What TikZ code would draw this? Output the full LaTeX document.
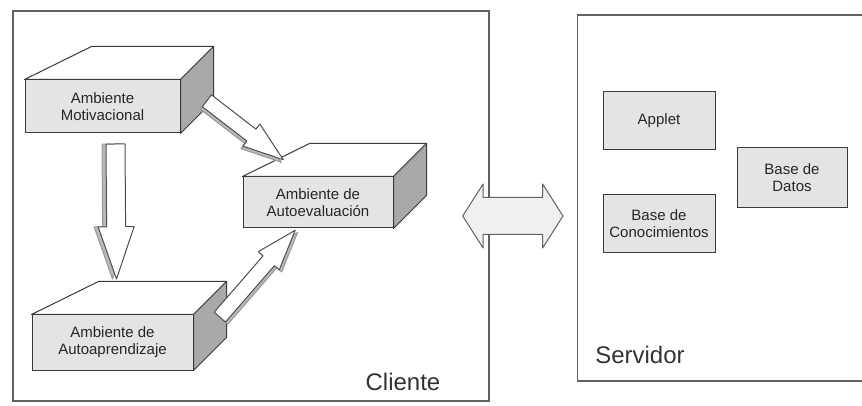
\documentclass[tikz,border=0pt]{standalone}
\usepackage{fontspec}
\setmainfont{Liberation Sans}
\usepackage{tikz}
\usetikzlibrary{calc,shapes.arrows}
\definecolor{facefr}{HTML}{E4E4E4}
\definecolor{faceside}{HTML}{A9A9A9}
\definecolor{edge}{HTML}{3A3A3A}

\begin{document}
\begin{tikzpicture}[
  x=0.5pt, y=-0.5pt,
  frame/.style={draw=edge!80, line width=0.7pt, inner sep=0pt},
  front/.style={draw=edge, line width=0.5pt, fill=facefr, align=center, inner sep=0pt,
    font=\fontsize{7.5}{8.6}\selectfont, text=black!85},
  topf/.style={draw=edge, line width=0.5pt, fill=white, line join=round},
  sidef/.style={draw=edge, line width=0.5pt, fill=faceside, line join=round},
  srvbox/.style={front, minimum width=56pt, minimum height=29pt},
  harrow/.style={single arrow, anchor=tail, draw=edge!90, line width=0.5pt, fill=white, line join=round,
    inner xsep=0pt, inner ysep=3.5pt, single arrow tip angle=38, single arrow head extend=3.2pt},
  hshade/.style={harrow, draw=gray!80, fill=gray!55},
  lbl/.style={font=\fontsize{12}{14}\selectfont, text=black!80}]
\useasboundingbox (0,0) rectangle (862,406);
% containers
\node[frame, minimum width=238pt, minimum height=195pt] (cli) at (251,206) {};
\node[frame, minimum width=190pt, minimum height=183pt, anchor=west] (srv) at (577,198) {};
\node[lbl] (clil) at (403,382) {Cliente};
\node[lbl] (srvl) at (640,355) {Servidor};
% client side: three boxes
\node[front, minimum width=77.5pt, minimum height=26.5pt] (mot) at (102.5,106.5) {Ambiente\\ Motivacional};
\node[front, minimum width=75pt, minimum height=25.5pt] (aev) at (318,202.5) {Ambiente de\\ Autoevaluación};
\node[front, minimum width=80.5pt, minimum height=27.5pt] (apr) at (112.5,342.5) {Ambiente de\\ Autoaprendizaje};
\foreach \b in {mot,aev,apr} {
  \draw[topf] (\b.north west) -- ++(67,-33) -- ($(\b.north east)+(33,-33)$) -- (\b.north east) -- cycle;
  \draw[sidef] (\b.north east) -- ++(33,-33) -- ($(\b.south east)+(33,-33)$) -- (\b.south east) -- cycle;
}
% arrow ends
\coordinate (m0) at ($(mot.south)+(13,10)$);
\coordinate (p0) at ($(apr.north)+(4,-36)$);
\coordinate (m1) at ($(mot.east)+(26,-6)$);
\coordinate (e1) at ($(aev.north)+(-35,-17)$);
\coordinate (p1) at ($(apr.east)+(26,-25)$);
\coordinate (e2) at ($(aev.south)+(-23,2)$);
% hollow arrows between the boxes
\path let \p1=($(p0)-(m0)$), \n1={atan2(\y1,\x1)}, \n2={veclen(\x1,\y1)} in
  node[hshade, rotate=\n1, yshift=-2pt, minimum height=\n2, inner ysep=4.5pt, single arrow head extend=4.25pt] (v0s) at (m0) {}
  node[harrow, rotate=\n1, minimum height=\n2, inner ysep=4.5pt, single arrow head extend=4.25pt] (v0) at (m0) {};
\path let \p1=($(e1)-(m1)$), \n1={atan2(\y1,\x1)}, \n2={veclen(\x1,\y1)} in
  node[hshade, rotate=\n1, yshift=-1.6pt, minimum height=\n2] (d1s) at (m1) {}
  node[harrow, rotate=\n1, minimum height=\n2] (d1) at (m1) {};
\path let \p1=($(e2)-(p1)$), \n1={atan2(\y1,\x1)}, \n2={veclen(\x1,\y1)} in
  node[hshade, rotate=\n1, yshift=-1.6pt, minimum height=\n2] (d2s) at (p1) {}
  node[harrow, rotate=\n1, minimum height=\n2] (d2) at (p1) {};
% client <-> server
\coordinate (dl) at ($(cli.east)+(-27,10)$);
\coordinate (dr) at ($(srv.west)+(-14,18)$);
\path let \p1=($(dr)-(dl)$), \n2={veclen(\x1,\y1)} in
  node[double arrow, draw=edge!80, line width=0.5pt, fill=gray!12, line join=round,
    inner xsep=0pt, inner ysep=9pt, minimum height=\n2, double arrow head extend=6.75pt,
    double arrow tip angle=115] (cs) at ($(dl)!0.5!(dr)$) {};
% server side
\node[srvbox] (app) at (659,121) {Applet};
\node[srvbox, minimum width=55pt, minimum height=30pt] (bd) at (792,178) {Base de\\ Datos};
\node[srvbox] (bc) at (659,224) {Base de\\ Conocimientos};
\end{tikzpicture}
\end{document}
